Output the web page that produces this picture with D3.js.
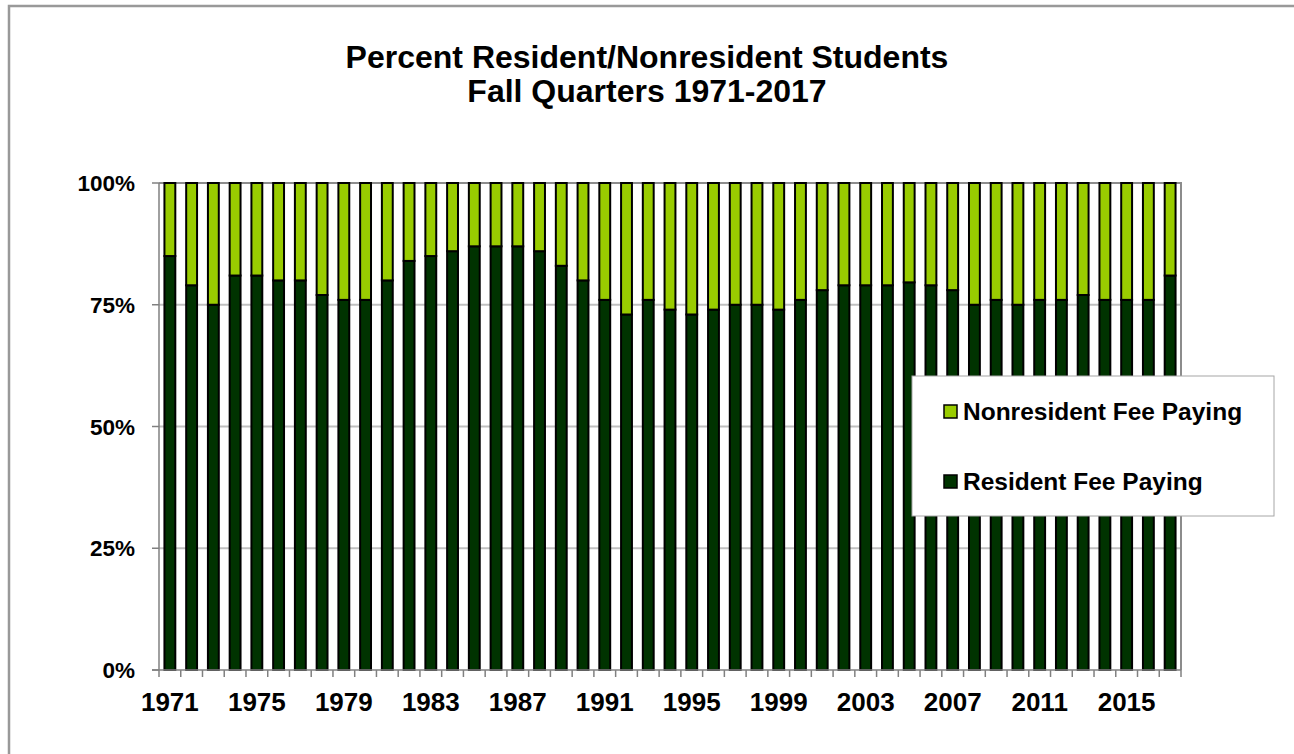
<!DOCTYPE html>
<html>
<head>
<meta charset="utf-8">
<script src="https://cdn.jsdelivr.net/npm/d3@7"></script>
<style>
  body { margin: 0; background: #fff; }
  svg { display: block; font-family: Arial, "Liberation Sans", sans-serif; font-weight: bold; }
</style>
</head>
<body>
<div id="chart"></div>
<script>
// ---- data ----
var years = [1971,1972,1973,1974,1975,1976,1977,1978,1979,1980,
             1981,1982,1983,1984,1985,1986,1987,1988,1989,1990,
             1991,1992,1993,1994,1995,1996,1997,1998,1999,2000,
             2001,2002,2003,2004,2005,2006,2007,2008,2009,2010,
             2011,2012,2013,2014,2015,2016,2017];
var resident = [85,79,75,81,81,80,80,77,76,76,
                80,84,85,86,87,87,87,86,83,80,
                76,73,76,74,73,74,75,75,74,76,
                78,79,79,79,79.6,79,78,75,76,75,
                76,76,77,76,76,76,81];
var nonresident = [15,21,25,19,19,20,20,23,24,24,
                   20,16,15,14,13,13,13,14,17,20,
                   24,27,24,26,27,26,25,25,26,24,
                   22,21,21,21,20.4,21,22,25,24,25,
                   24,24,23,24,24,24,19];
var xTickLabels = ["1971","1975","1979","1983","1987","1991","1995","1999","2003","2007","2011","2015"];
var yTicks = [0,25,50,75,100];
var seriesNames = ["Nonresident Fee Paying","Resident Fee Paying"];
var seriesColors = {"Resident Fee Paying":"#003300","Nonresident Fee Paying":"#99cc00"};

var width = 1294, height = 754;
var margin = {left:159, right:1181, top:183, bottom:670};

var svg = d3.select("#chart").append("svg")
  .attr("width", width)
  .attr("height", height);

// outer chart border (runs off the right/bottom of the picture)
svg.append("rect")
  .attr("x", 9).attr("y", 6)
  .attr("width", 1300).attr("height", 760)
  .attr("fill", "#fff")
  .attr("stroke", "#999")
  .attr("stroke-width", 2.5);

// title
var title = svg.append("text")
  .attr("text-anchor", "middle")
  .attr("font-size", 32)
  .attr("fill", "#000");
title.append("tspan").attr("x", 647).attr("y", 68).text("Percent Resident/Nonresident Students");
title.append("tspan").attr("x", 647).attr("y", 102).text("Fall Quarters 1971-2017");

var x = d3.scaleBand()
  .domain(years)
  .range([margin.left, margin.right])
  .paddingInner(0.5)
  .paddingOuter(0.25);

var y = d3.scaleLinear()
  .domain([0,100])
  .range([margin.bottom, margin.top]);

// gridlines
svg.append("g")
  .selectAll("line")
  .data(yTicks.filter(function(d){ return d > 0 && d < 100; }))
  .enter().append("line")
  .attr("x1", margin.left).attr("x2", margin.right)
  .attr("y1", function(d){ return y(d); })
  .attr("y2", function(d){ return y(d); })
  .attr("stroke", "#c0c0c0")
  .attr("stroke-width", 2);

// plot area border top/right
svg.append("path")
  .attr("d", "M" + margin.left + "," + y(100) + "H" + margin.right + "V" + margin.bottom)
  .attr("fill", "none")
  .attr("stroke", "#8c8c8c")
  .attr("stroke-width", 2);

// stacked bars
var stackData = years.map(function(yr, i){
  return {year: yr, "Resident Fee Paying": resident[i], "Nonresident Fee Paying": nonresident[i]};
});
var stack = d3.stack().keys(["Resident Fee Paying","Nonresident Fee Paying"]);
var layers = stack(stackData);

svg.append("g")
  .selectAll("g")
  .data(layers)
  .enter().append("g")
  .attr("fill", function(d){ return seriesColors[d.key]; })
  .selectAll("rect")
  .data(function(d){ return d; })
  .enter().append("rect")
  .attr("x", function(d){ return x(d.data.year); })
  .attr("width", x.bandwidth())
  .attr("y", function(d){ return y(d[1]); })
  .attr("height", function(d){ return y(d[0]) - y(d[1]); })
  .attr("stroke", "#000")
  .attr("stroke-width", 2);

// axes lines
var axisColor = "#808080";
svg.append("line")
  .attr("x1", margin.left).attr("x2", margin.left)
  .attr("y1", margin.top).attr("y2", margin.bottom)
  .attr("stroke", axisColor).attr("stroke-width", 1.5);
svg.append("line")
  .attr("x1", margin.left - 7).attr("x2", margin.right)
  .attr("y1", margin.bottom).attr("y2", margin.bottom)
  .attr("stroke", axisColor).attr("stroke-width", 1.5);

// y ticks + labels
var yAxis = svg.append("g").selectAll("g")
  .data(yTicks).enter().append("g")
  .attr("transform", function(d){ return "translate(0," + y(d) + ")"; });
yAxis.append("line")
  .attr("x1", margin.left - 7).attr("x2", margin.left)
  .attr("stroke", axisColor).attr("stroke-width", 1.5);
yAxis.append("text")
  .attr("x", 135)
  .attr("y", 8)
  .attr("text-anchor", "end")
  .attr("font-size", 22.5)
  .text(function(d){ return d + "%"; });

// x ticks at category boundaries
var boundaries = years.map(function(yr){ return x(yr) - x.bandwidth() * 0.5; });
boundaries.push(margin.right);
svg.append("g").selectAll("line")
  .data(boundaries).enter().append("line")
  .attr("x1", function(d){ return d; })
  .attr("x2", function(d){ return d; })
  .attr("y1", margin.bottom).attr("y2", margin.bottom + 7)
  .attr("stroke", axisColor).attr("stroke-width", 1.5);

svg.append("g").selectAll("text")
  .data(xTickLabels).enter().append("text")
  .attr("x", function(d){ return x(+d) + x.bandwidth() / 2; })
  .attr("y", 711)
  .attr("text-anchor", "middle")
  .attr("font-size", 26)
  .text(function(d){ return d; });

// legend
var legend = svg.append("g");
legend.append("rect")
  .attr("x", 912).attr("y", 376)
  .attr("width", 362).attr("height", 140)
  .attr("fill", "#fff")
  .attr("stroke", "#a6a6a6")
  .attr("stroke-width", 1);
var item = legend.selectAll("g")
  .data(seriesNames).enter().append("g")
  .attr("transform", function(d, i){ return "translate(944," + (405 + i * 70) + ")"; });
item.append("rect")
  .attr("width", 13).attr("height", 13)
  .attr("fill", function(d){ return seriesColors[d]; })
  .attr("stroke", "#000")
  .attr("stroke-width", 1.5);
item.append("text")
  .attr("x", 19)
  .attr("y", 15)
  .attr("font-size", 24.5)
  .text(function(d){ return d; });
</script>
</body>
</html>
